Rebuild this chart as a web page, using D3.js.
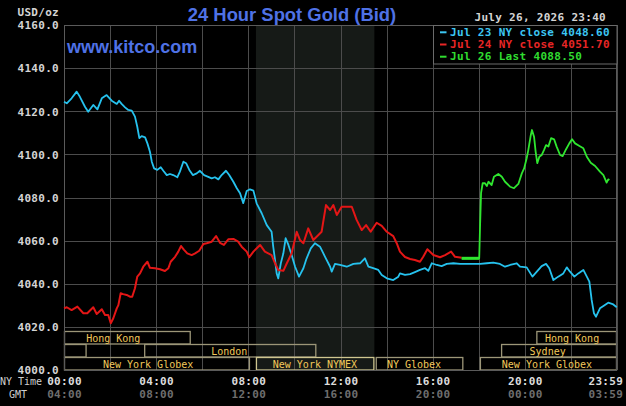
<!DOCTYPE html>
<html><head><meta charset="utf-8">
<script src="https://cdn.jsdelivr.net/npm/d3@7"></script>
<style>html,body{margin:0;padding:0;background:#000;overflow:hidden}</style>
</head><body><svg id="c" width="626" height="406"></svg>
<script>
// ---------------- DATA ----------------
const yTicks = [4000, 4020, 4040, 4060, 4080, 4100, 4120, 4140, 4160];
const gridHours = [0, 2, 4, 6, 8, 10, 12, 14, 16, 18, 20, 22, 24];
const xTickHours = [0, 4, 8, 12, 16, 20, 23.983];
const nyTimeLabels = ["00:00", "04:00", "08:00", "12:00", "16:00", "20:00", "23:59"];
const gmtLabels = ["04:00", "08:00", "12:00", "16:00", "20:00", "00:00", "03:59"];
const legendLabels = ["Jul 23 NY close 4048.60", "Jul 24 NY close 4051.70", "Jul 26 Last 4088.50"];
const titleText = "24 Hour Spot Gold (Bid)";
const dateText = "July 26, 2026 23:40";

// [hour (NY time), price]
const jul23 = [[0,4124.4],[0.12,4123.7],[0.33,4126.0],[0.55,4129.1],[0.69,4126.7],[0.91,4122.1],[1.05,4119.8],[1.27,4122.9],[1.45,4120.9],[1.64,4126.0],[1.85,4127.5],[2.07,4124.9],[2.29,4123.4],[2.39,4124.9],[2.50,4123.4],[2.65,4121.8],[2.79,4120.6],[2.94,4120.3],[3.08,4117.5],[3.18,4112.8],[3.27,4107.5],[3.37,4108.5],[3.52,4107.9],[3.62,4105.1],[3.73,4101.2],[3.81,4096.6],[3.91,4093.5],[4.05,4092.8],[4.20,4094.0],[4.31,4092.4],[4.46,4090.4],[4.60,4090.9],[4.74,4090.4],[4.92,4089.4],[5.03,4092.0],[5.18,4096.6],[5.30,4095.9],[5.44,4092.8],[5.59,4090.4],[5.76,4091.2],[5.90,4092.4],[6.08,4090.4],[6.26,4089.6],[6.41,4088.9],[6.55,4089.4],[6.70,4088.4],[6.84,4090.4],[7.03,4092.4],[7.17,4090.4],[7.35,4087.3],[7.50,4084.3],[7.64,4082.0],[7.78,4077.4],[7.93,4083.0],[8.07,4083.8],[8.22,4083.2],[8.36,4077.3],[8.58,4072.7],[8.80,4067.2],[9.01,4064.1],[9.08,4057.2],[9.16,4051.0],[9.23,4044.8],[9.30,4042.5],[9.41,4049.5],[9.52,4054.1],[9.62,4061.1],[9.74,4058.0],[9.88,4053.3],[10.03,4047.9],[10.20,4043.3],[10.39,4047.2],[10.53,4051.8],[10.71,4056.4],[10.89,4058.8],[11.11,4057.2],[11.33,4052.5],[11.55,4047.9],[11.62,4045.6],[11.76,4049.2],[11.98,4048.7],[12.27,4047.9],[12.56,4049.2],[12.85,4049.5],[13.06,4051.8],[13.21,4047.9],[13.42,4047.2],[13.64,4046.4],[13.79,4044.1],[14.01,4042.5],[14.29,4041.7],[14.51,4043.3],[14.58,4044.8],[14.80,4044.1],[15.02,4044.5],[15.23,4045.4],[15.45,4046.4],[15.67,4047.2],[15.81,4046.0],[15.96,4049.5],[16.18,4048.7],[16.39,4048.2],[16.61,4049.2],[16.90,4049.5],[17.19,4049.2],[17.62,4049.2],[18.06,4049.2],[18.35,4049.5],[18.63,4049.8],[18.92,4049.2],[19.14,4047.9],[19.36,4048.7],[19.65,4049.5],[19.79,4047.9],[20.08,4047.6],[20.33,4043.3],[20.52,4045.6],[20.73,4048.2],[20.92,4049.2],[21.06,4047.2],[21.24,4041.7],[21.45,4043.3],[21.67,4044.8],[21.82,4047.6],[21.96,4045.6],[22.15,4043.3],[22.32,4044.8],[22.54,4046.4],[22.69,4043.3],[22.80,4041.0],[22.90,4032.5],[23.00,4026.3],[23.09,4024.7],[23.26,4028.6],[23.41,4029.7],[23.62,4031.2],[23.81,4030.6],[23.99,4029.1]];

const jul24 = [[0,4028.6],[0.12,4029.1],[0.33,4027.8],[0.58,4029.4],[0.84,4026.3],[1.01,4026.3],[1.27,4029.1],[1.42,4026.0],[1.64,4028.2],[1.78,4025.5],[1.92,4025.5],[2.03,4021.7],[2.14,4024.0],[2.29,4028.6],[2.36,4030.1],[2.46,4035.6],[2.57,4035.2],[2.72,4034.8],[2.86,4034.0],[2.96,4034.0],[3.08,4037.9],[3.18,4043.3],[3.30,4044.8],[3.44,4047.9],[3.62,4050.2],[3.73,4047.4],[3.95,4047.2],[4.17,4046.7],[4.38,4045.9],[4.53,4047.2],[4.63,4050.2],[4.82,4052.5],[4.96,4054.9],[5.08,4057.5],[5.21,4055.7],[5.35,4054.1],[5.54,4053.3],[5.69,4054.1],[5.87,4055.3],[6.05,4058.4],[6.19,4058.8],[6.41,4059.5],[6.60,4062.1],[6.77,4059.0],[6.94,4058.0],[7.13,4060.6],[7.35,4060.8],[7.56,4059.5],[7.71,4057.2],[7.93,4054.9],[8.04,4052.3],[8.22,4054.9],[8.51,4058.0],[8.72,4054.9],[9.01,4053.3],[9.16,4049.5],[9.30,4046.4],[9.52,4046.0],[9.67,4049.5],[9.88,4054.1],[10.10,4064.1],[10.24,4060.3],[10.39,4058.8],[10.60,4065.7],[10.82,4060.3],[11.04,4062.6],[11.18,4064.1],[11.37,4076.5],[11.55,4074.2],[11.69,4076.5],[11.84,4071.9],[12.05,4075.7],[12.27,4075.7],[12.49,4075.7],[12.70,4069.6],[12.92,4064.9],[13.11,4067.2],[13.31,4064.1],[13.57,4068.3],[13.79,4066.8],[14.01,4064.1],[14.29,4062.1],[14.44,4058.8],[14.58,4054.9],[14.80,4052.4],[15.02,4051.5],[15.23,4051.0],[15.45,4050.2],[15.59,4052.5],[15.77,4056.0],[16.03,4053.3],[16.32,4052.3],[16.54,4053.3],[16.80,4054.9],[16.97,4052.5],[17.26,4052.1]];

const jul26 = [[17.26,4051.8],[18.02,4051.8],[18.06,4068.0],[18.10,4082.0],[18.17,4086.6],[18.27,4086.6],[18.35,4085.3],[18.42,4087.3],[18.56,4085.8],[18.66,4089.6],[18.85,4090.9],[19.00,4089.6],[19.14,4087.3],[19.36,4085.0],[19.53,4084.3],[19.72,4086.3],[19.87,4091.2],[19.97,4093.5],[20.08,4098.2],[20.15,4102.0],[20.26,4109.0],[20.31,4111.3],[20.40,4108.2],[20.47,4101.2],[20.54,4095.9],[20.63,4098.9],[20.73,4099.7],[20.83,4102.0],[20.92,4104.3],[21.02,4103.6],[21.14,4107.5],[21.27,4107.0],[21.38,4103.6],[21.53,4099.7],[21.64,4099.2],[21.79,4102.4],[21.93,4105.1],[22.05,4107.0],[22.18,4105.1],[22.37,4103.9],[22.54,4102.8],[22.69,4098.9],[22.86,4096.1],[23.05,4094.6],[23.26,4092.0],[23.41,4090.4],[23.55,4086.9],[23.62,4088.4],[23.67,4088.1]];

// market sessions (NY time hours), row 0 = top
const sessionNames = ["Hong Kong", "Hong Kong", "", "London", "Sydney", "New York Globex", "New York NYMEX", "NY Globex", "New York Globex"];
const sessionStart = [0, 20.5, 0, 3.48, 18.97, 0, 8.33, 13.53, 18.05];
const sessionEnd   = [5.5, 24, 0.98, 10.95, 24, 8.07, 13.47, 17.33, 24];
const sessionLabelHour = [2.14, 22.05, 0, 7.17, 20.99, 3.65, 10.89, 15.19, 20.96];
const sessionRow   = [0, 0, 1, 1, 1, 2, 2, 2, 2];

// ---------------- DRAW ----------------
const W = 626, H = 406;
const L = 64, R = 617, T = 25, B = 370;
const svg = d3.select("#c");
svg.append("rect").attr("width", W).attr("height", H).attr("fill", "#000");

const x = d3.scaleLinear().domain([0, 24]).range([L, R]);
const y = d3.scaleLinear().domain([4000, 4160]).range([B, T]);

const mono = "'DejaVu Sans Mono', 'Liberation Mono', monospace";

// NYMEX shading
const nyIdx = sessionNames.indexOf("New York NYMEX");
svg.append("rect")
  .attr("x", x(sessionStart[nyIdx])).attr("y", T)
  .attr("width", x(sessionEnd[nyIdx]) - x(sessionStart[nyIdx]))
  .attr("height", B - T).attr("fill", "#161a17");

// grid
const grid = svg.append("g").attr("stroke", "#4c4c4c").attr("stroke-width", 1).attr("shape-rendering", "crispEdges");
grid.selectAll("line.h").data(yTicks).join("line")
  .attr("x1", L).attr("x2", R).attr("y1", d => Math.round(y(d)) + 0.5).attr("y2", d => Math.round(y(d)) + 0.5);
grid.selectAll("line.v").data(gridHours).join("line")
  .attr("y1", T).attr("y2", B).attr("x1", d => Math.round(x(d)) + 0.5).attr("x2", d => Math.round(x(d)) + 0.5);

// sessions
const rowTop = r => 331 + r * 13;
const sess = svg.append("g");
sessionNames.forEach((name, i) => {
  const x0 = x(sessionStart[i]), x1 = x(sessionEnd[i]);
  const r = sessionRow[i];
  const isNymex = name === "New York NYMEX";
  sess.append("rect")
    .attr("x", x0 + 0.5).attr("y", rowTop(r) + 0.5)
    .attr("width", Math.max(0, x1 - x0 - 1)).attr("height", 12.5)
    .attr("fill", "none")
    .attr("stroke", isNymex ? "#cfc690" : "#9c9678")
    .attr("stroke-width", 1.3);
  if (name) {
    sess.append("text")
      .attr("x", x(sessionLabelHour[i])).attr("y", rowTop(r) + 7)
      .attr("text-anchor", "middle").attr("dominant-baseline", "central")
      .attr("fill", "#f2c95a").attr("font-family", mono).attr("font-size", "10px")
      .text(name);
  }
});

// plot border
svg.append("rect").attr("x", L + 0.5).attr("y", T + 0.5).attr("width", R - L - 1).attr("height", B - T)
  .attr("fill", "none").attr("stroke", "#5a5a5a").attr("shape-rendering", "crispEdges");

// lines
const line = d3.line().x(d => x(d[0])).y(d => y(d[1]));
svg.append("path").datum(jul23).attr("d", line).attr("fill", "none")
  .attr("stroke", "#26c2ee").attr("stroke-width", 1.8).attr("stroke-linejoin", "round");
svg.append("path").datum(jul24).attr("d", line).attr("fill", "none")
  .attr("stroke", "#e41616").attr("stroke-width", 2).attr("stroke-linejoin", "round");
svg.append("path").datum(jul26).attr("d", line).attr("fill", "none")
  .attr("stroke", "#2fe62f").attr("stroke-width", 1.8).attr("stroke-linejoin", "round");
svg.append("path").datum(jul26.slice(0, 2)).attr("d", line).attr("fill", "none")
  .attr("stroke", "#2fe62f").attr("stroke-width", 3);

// y axis
const yAxis = d3.axisLeft(y).tickValues(yTicks).tickFormat(d3.format(".1f")).tickSize(0).tickPadding(5);
const yg = svg.append("g").attr("transform", `translate(${L},0)`).call(yAxis);
yg.select(".domain").remove();
yg.selectAll("text").attr("fill", "#d4d4d4").attr("font-family", mono).attr("font-weight", "bold")
  .attr("font-size", "11px").attr("letter-spacing", "0.3px").attr("dy", "0.35em");

svg.append("text").attr("x", 59).attr("y", 12).attr("text-anchor", "end").attr("dominant-baseline", "central")
  .attr("fill", "#d4d4d4").attr("font-family", mono).attr("font-weight", "bold").attr("font-size", "11px")
  .attr("letter-spacing", "0.3px").text("USD/oz");

// x axes (NY time and GMT)
function xAxisRow(labels, yPos, color) {
  const ax = d3.axisBottom(x).tickValues(xTickHours).tickFormat((d, i) => labels[i]).tickSize(0).tickPadding(0);
  const g = svg.append("g").attr("transform", `translate(0,${yPos})`).call(ax);
  g.select(".domain").remove();
  g.selectAll("text").attr("fill", color).attr("font-family", mono).attr("font-weight", "bold")
    .attr("font-size", "11px").attr("letter-spacing", "0.3px").attr("dy", "0.35em").attr("y", 0);
  g.selectAll(".tick").filter((d, i) => i === xTickHours.length - 1).select("text")
    .attr("text-anchor", "end").attr("dx", "6px");
}
xAxisRow(nyTimeLabels, 381, "#dcdcdc");
xAxisRow(gmtLabels, 394.5, "#6e6e6e");

svg.append("text").attr("x", 0).attr("y", 381.5).attr("dominant-baseline", "central")
  .attr("fill", "#cfcfcf").attr("font-family", mono).attr("font-size", "10px").text("NY Time");
svg.append("text").attr("x", 9).attr("y", 394.5).attr("dominant-baseline", "central")
  .attr("fill", "#cfcfcf").attr("font-family", mono).attr("font-size", "10px").text("GMT");

// title, site, date
svg.append("text").attr("x", 292).attr("y", 14).attr("text-anchor", "middle").attr("dominant-baseline", "central")
  .attr("fill", "#4f72e6").attr("font-family", "'Liberation Sans', Arial, sans-serif").attr("font-weight", "bold")
  .attr("font-size", "18.4px").text(titleText);
svg.append("text").attr("x", 67).attr("y", 47).attr("dominant-baseline", "central")
  .attr("fill", "#4f72e6").attr("font-family", "'Liberation Sans', Arial, sans-serif").attr("font-weight", "bold")
  .attr("font-size", "18px").text("www.kitco.com");
svg.append("text").attr("x", 606).attr("y", 17.5).attr("text-anchor", "end").attr("dominant-baseline", "central")
  .attr("fill", "#d4d4d4").attr("font-family", mono).attr("font-size", "11px").attr("font-weight", "bold")
  .attr("letter-spacing", "0.3px").text(dateText);

// legend
const legendColors = ["#3cc6f2", "#e82626", "#30dc30"];
svg.append("rect").attr("x", 433.5).attr("y", 25.5).attr("width", R - 433.5).attr("height", 38.5)
  .attr("fill", "#000").attr("stroke", "#6a6a6a").attr("stroke-width", 1);
legendLabels.forEach((t, i) => {
  const yy = 32.3 + i * 12.2;
  svg.append("line").attr("x1", 440).attr("x2", 446.5).attr("y1", yy).attr("y2", yy)
    .attr("stroke", legendColors[i]).attr("stroke-width", 2);
  svg.append("text").attr("x", 450).attr("y", yy).attr("dominant-baseline", "central")
    .attr("fill", legendColors[i]).attr("font-family", mono).attr("font-weight", "bold")
    .attr("font-size", "11px").attr("letter-spacing", "0.33px").text(t);
});
</script></body></html>
